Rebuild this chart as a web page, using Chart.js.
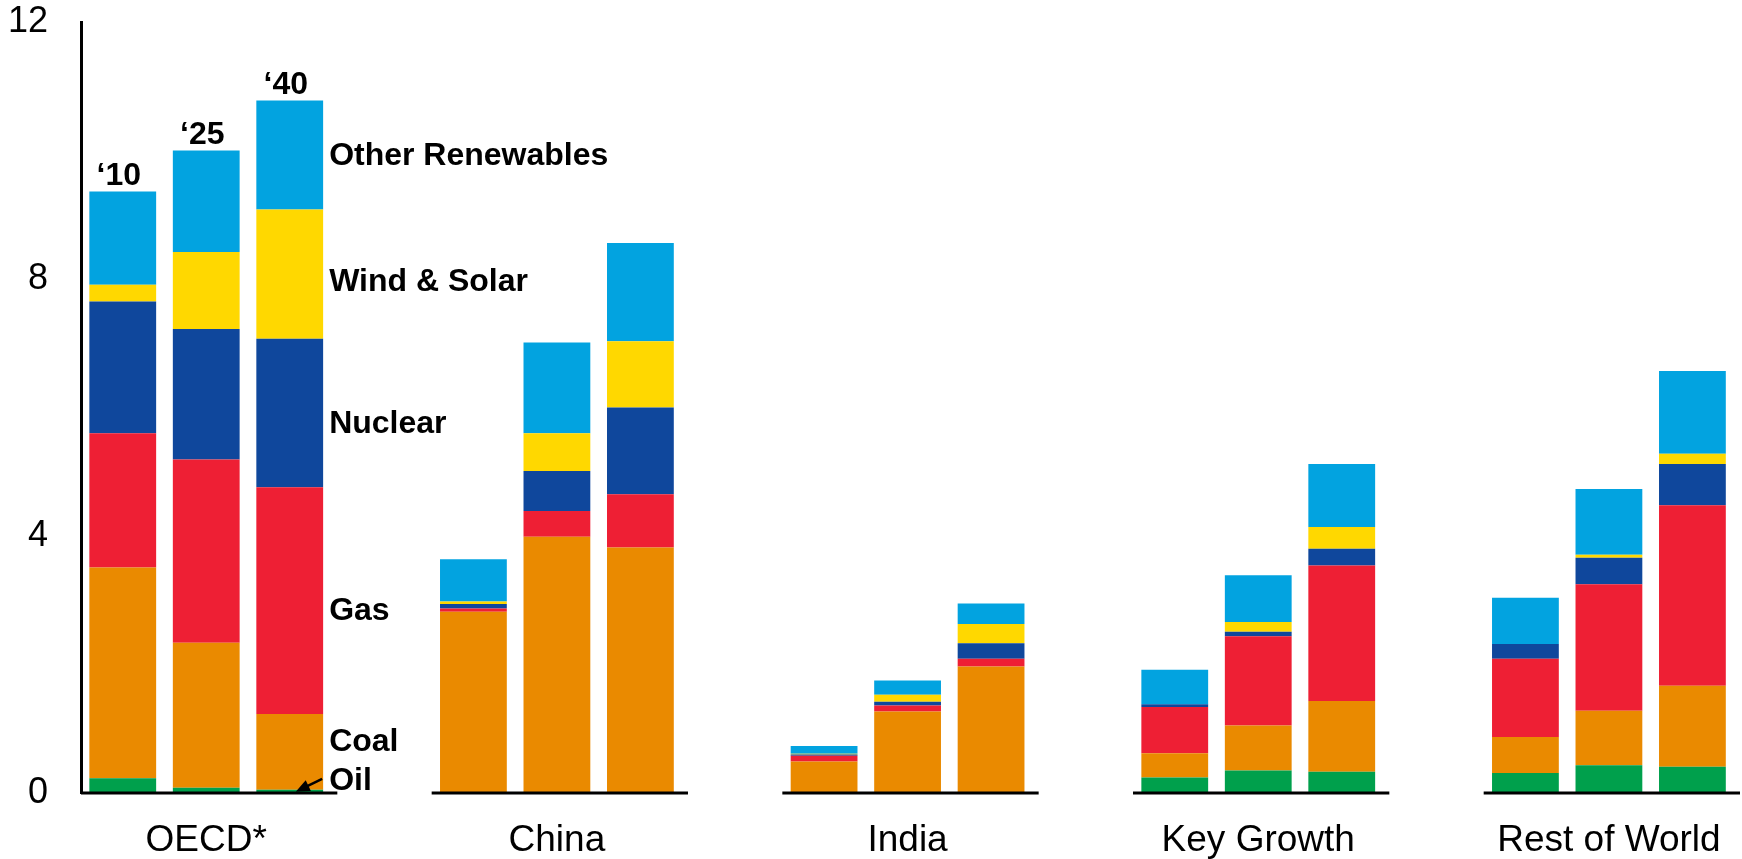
<!DOCTYPE html>
<html>
<head>
<meta charset="utf-8">
<script src="https://cdn.jsdelivr.net/npm/chart.js@4.4.1/dist/chart.umd.min.js"></script>
<style>
  html, body { margin: 0; padding: 0; background: #fff; }
  #wrap { position: relative; width: 1742px; height: 859px; }
</style>
</head>
<body>
<div id="wrap"><canvas id="mixChart"></canvas></div>
<script>
const regions = ["OECD*", "China", "India", "Key Growth", "Rest of World"];
const years = ["\u201810", "\u201825", "\u201840"];

// values per region, each in year order '10, '25, '40
const oil     = [0.23, 0.08, 0.05,  0, 0, 0,           0, 0, 0,           0.24, 0.35, 0.33,  0.31, 0.43, 0.41];
const coal    = [3.28, 2.26, 1.18,  2.82, 3.99, 3.82,  0.49, 1.27, 1.97,  0.38, 0.70, 1.10,  0.56, 0.85, 1.26];
const gas     = [2.09, 2.85, 3.53,  0.05, 0.40, 0.83,  0.09, 0.09, 0.12,  0.72, 1.39, 2.11,  1.22, 1.97, 2.81];
const nuclear = [2.05, 2.03, 2.31,  0.07, 0.62, 1.35,  0.02, 0.06, 0.24,  0.04, 0.07, 0.26,  0.23, 0.41, 0.64];
const windSolar = [0.26, 1.20, 2.01, 0.04, 0.59, 1.03, 0.01, 0.11, 0.30, 0, 0.15, 0.34,     0, 0.05, 0.16];
const otherRen  = [1.45, 1.58, 1.70, 0.66, 1.41, 1.53, 0.12, 0.22, 0.32, 0.54, 0.73, 0.98,  0.72, 1.02, 1.29];

const yTicks = [0, 4, 8, 12];

const fuels = [
  { label: "Oil", values: oil, color: "#00A04C" },
  { label: "Coal", values: coal, color: "#EA8A00" },
  { label: "Gas", values: gas, color: "#EE1F34" },
  { label: "Nuclear", values: nuclear, color: "#0F479C" },
  { label: "Wind & Solar", values: windSolar, color: "#FFD800" },
  { label: "Other Renewables", values: otherRen, color: "#02A3E0" }
];
// where the fuel names sit on the y axis, beside the OECD '40 bar
const fuelLabelAt = [0.2, 0.8, 2.84, 5.76, 7.97, 9.93];

const STEP = 4.2; // distance between region groups, in bar slots
const xOf = i => Math.floor(i / 3) * STEP + (i % 3);
const FONT = "'Liberation Sans', Arial, sans-serif";

const annotations = {
  id: "annotations",
  afterDatasetsDraw(chart) {
    const ctx = chart.ctx;
    const xs = chart.scales.x, ys = chart.scales.y;
    const y0 = ys.getPixelForValue(0);
    ctx.save();

    // baseline under each group
    ctx.strokeStyle = "#000";
    ctx.lineWidth = 3;
    regions.forEach((r, g) => {
      ctx.beginPath();
      ctx.moveTo(xs.getPixelForValue(g * STEP - 0.5), y0);
      ctx.lineTo(xs.getPixelForValue(g * STEP + 2.57), y0);
      ctx.stroke();
    });

    // year labels over OECD bars
    ctx.fillStyle = "#000";
    ctx.font = "bold 32px " + FONT;
    ctx.textAlign = "center";
    ctx.textBaseline = "bottom";
    years.forEach((yr, j) => {
      const total = fuels.reduce((s, f) => s + f.values[j], 0);
      ctx.fillText(yr, xs.getPixelForValue(j) - 4, ys.getPixelForValue(total) + 1);
    });

    // fuel labels beside the OECD '40 bar
    const bar = chart.getDatasetMeta(0).data[2];
    const right = bar.x + bar.width / 2;
    ctx.textAlign = "left";
    ctx.textBaseline = "middle";
    fuels.forEach((f, k) => {
      ctx.fillText(f.label, right + 6, ys.getPixelForValue(fuelLabelAt[k]) + 1);
    });

    // arrow from "Oil" to the thin oil slice
    const tx = right - 1, ty = ys.getPixelForValue(0.22);
    const hx = bar.x + 6, hy = ys.getPixelForValue(0.02);
    const ang = Math.atan2(hy - ty, hx - tx);
    ctx.lineWidth = 2.5;
    ctx.beginPath();
    ctx.moveTo(tx, ty);
    ctx.lineTo(hx - 10 * Math.cos(ang), hy - 10 * Math.sin(ang));
    ctx.stroke();
    ctx.beginPath();
    ctx.moveTo(hx, hy);
    ctx.lineTo(hx - 14 * Math.cos(ang) + 6 * Math.sin(ang), hy - 14 * Math.sin(ang) - 6 * Math.cos(ang));
    ctx.lineTo(hx - 14 * Math.cos(ang) - 6 * Math.sin(ang), hy - 14 * Math.sin(ang) + 6 * Math.cos(ang));
    ctx.closePath();
    ctx.fill();

    ctx.restore();
  }
};

new Chart(document.getElementById("mixChart"), {
  type: "bar",
  data: {
    datasets: fuels.map(f => ({
      label: f.label,
      data: f.values.map((v, i) => ({ x: xOf(i), y: v })),
      backgroundColor: f.color,
      borderWidth: 0,
      barPercentage: 1,
      categoryPercentage: 0.8
    }))
  },
  options: {
    responsive: true,
    maintainAspectRatio: false,
    animation: false,
    layout: { padding: { top: 22, right: 2, left: 0, bottom: 0 } },
    plugins: { legend: { display: false }, tooltip: { enabled: false } },
    scales: {
      x: {
        type: "linear",
        stacked: true,
        offset: false,
        min: -0.5,
        max: 19.37,
        grid: { display: false, drawTicks: false, offset: false },
        border: { display: false },
        afterBuildTicks: scale => {
          scale.ticks = regions.map((r, g) => ({ value: g * STEP + 1 }));
        },
        afterFit: scale => {
          scale.height = 66;
          scale.paddingLeft = 0;
          scale.paddingRight = 0;
        },
        ticks: {
          autoSkip: false,
          maxRotation: 0,
          padding: 26,
          color: "#000",
          font: { family: FONT, size: 37 },
          callback: (value, index) => regions[index]
        }
      },
      y: {
        stacked: true,
        min: 0,
        max: 12,
        grid: { display: false, drawTicks: false },
        border: { display: true, color: "#000", width: 3 },
        afterBuildTicks: scale => {
          scale.ticks = yTicks.map(v => ({ value: v }));
        },
        afterFit: scale => {
          scale.width = 81;
          scale.paddingTop = 0;
          scale.paddingBottom = 0;
        },
        ticks: {
          padding: 33,
          color: "#000",
          font: { family: FONT, size: 36 }
        }
      }
    }
  },
  plugins: [annotations]
});
</script>
</body>
</html>
